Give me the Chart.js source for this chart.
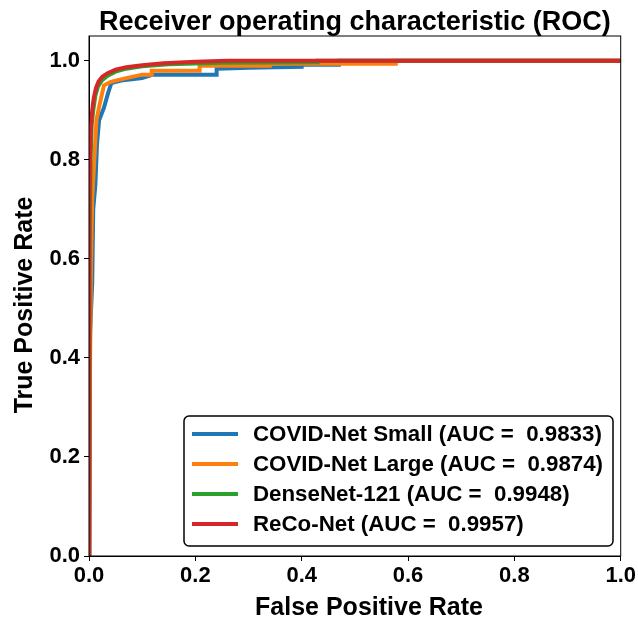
<!DOCTYPE html>
<html>
<head>
<meta charset="utf-8">
<script src="https://cdn.jsdelivr.net/npm/chart.js@4.4.1/dist/chart.umd.min.js"></script>
<style>
    html, body { margin: 0; padding: 0; background: #fff; }
    #wrap { width: 638px; height: 621px; }
</style>
</head>
<body>
<div id="wrap"><canvas id="rocChart"></canvas></div>
<script>
// ROC curves

const yTicks = [0.0, 0.2, 0.4, 0.6, 0.8, 1.0];

const smallFpr = [0, 0.002, 0.006, 0.008, 0.012, 0.015, 0.019, 0.028, 0.036, 0.042, 0.06, 0.1, 0.12, 0.24, 0.24, 0.30, 0.40, 0.40, 0.47, 0.47, 1.0];
const smallTpr = [0, 0.45, 0.55, 0.70, 0.75, 0.83, 0.88, 0.905, 0.935, 0.955, 0.96, 0.965, 0.972, 0.972, 0.984, 0.986, 0.988, 0.992, 0.992, 1.0, 1.0];

const largeFpr = [0, 0.002, 0.004, 0.006, 0.010, 0.014, 0.019, 0.028, 0.04, 0.05, 0.07, 0.1, 0.118, 0.118, 0.208, 0.208, 0.34, 0.34, 0.577, 0.577, 1.0];
const largeTpr = [0, 0.39, 0.60, 0.72, 0.80, 0.88, 0.907, 0.95, 0.957, 0.96, 0.965, 0.972, 0.972, 0.98, 0.98, 0.99, 0.99, 0.994, 0.994, 1.0, 1.0];

const denseFpr = [0, 0.001, 0.003, 0.005, 0.008, 0.012, 0.017, 0.024, 0.035, 0.05, 0.07, 0.1, 0.15, 0.25, 0.43, 0.43, 1.0];
const denseTpr = [0, 0.60, 0.80, 0.87, 0.90, 0.93, 0.948, 0.96, 0.97, 0.978, 0.984, 0.989, 0.993, 0.996, 0.997, 1.0, 1.0];

const recoFpr = [0, 0, 0.001, 0.002, 0.004, 0.006, 0.009, 0.013, 0.018, 0.025, 0.035, 0.05, 0.07, 0.1, 0.14, 0.2, 0.26, 1.0];
const recoTpr = [0, 0.50, 0.70, 0.82, 0.87, 0.90, 0.925, 0.945, 0.958, 0.968, 0.975, 0.982, 0.987, 0.991, 0.995, 0.998, 1.0, 1.0];

const seriesNames = ['COVID-Net Small', 'COVID-Net Large', 'DenseNet-121', 'ReCo-Net'];
const seriesAuc = ['0.9833', '0.9874', '0.9948', '0.9957'];
const seriesColors = ['#1f77b4', '#ff7f0e', '#2ca02c', '#d62728'];
const seriesFpr = [smallFpr, largeFpr, denseFpr, recoFpr];
const seriesTpr = [smallTpr, largeTpr, denseTpr, recoTpr];

const chartTitle = 'Receiver operating characteristic (ROC)';
const xTitle = 'False Positive Rate';
const yTitle = 'True Positive Rate';
const FONT = "'Liberation Sans', Arial, sans-serif";

function toPoints(xs, ys) {
    return xs.map((x, i) => ({ x: x, y: ys[i] }));
}

// titles, box around the plot, legend in lower right
const framePlugin = {
    id: 'frameAndLegend',
    afterDraw(chart) {
        const ctx = chart.ctx;
        const a = chart.chartArea;
        ctx.save();
        ctx.strokeStyle = '#000';
        ctx.lineWidth = 1;
        ctx.strokeRect(a.left, a.top, a.right - a.left, a.bottom - a.top);

        ctx.fillStyle = '#000';
        ctx.font = 'bold 27px ' + FONT;
        ctx.textAlign = 'center';
        ctx.textBaseline = 'alphabetic';
        ctx.fillText(chartTitle, (a.left + a.right) / 2, 30);

        ctx.textBaseline = 'middle';
        ctx.font = 'bold 25px ' + FONT;
        ctx.fillText(xTitle, 369, 608);

        ctx.save();
        ctx.translate(25, 305);
        ctx.rotate(-Math.PI / 2);
        ctx.fillText(yTitle, 0, 0);
        ctx.restore();

        // legend
        const bx = 184, by = 416, bw = 429, bh = 130, r = 5;
        ctx.beginPath();
        ctx.moveTo(bx + r, by);
        ctx.arcTo(bx + bw, by, bx + bw, by + bh, r);
        ctx.arcTo(bx + bw, by + bh, bx, by + bh, r);
        ctx.arcTo(bx, by + bh, bx, by, r);
        ctx.arcTo(bx, by, bx + bw, by, r);
        ctx.closePath();
        ctx.fillStyle = 'rgba(255,255,255,0.9)';
        ctx.fill();
        ctx.lineWidth = 1.5;
        ctx.strokeStyle = '#000';
        ctx.stroke();

        ctx.font = 'bold 22.3px ' + FONT;
        ctx.textBaseline = 'middle';
        ctx.textAlign = 'left';
        chart.data.datasets.forEach((ds, i) => {
            const y = 434 + i * 30;
            ctx.beginPath();
            ctx.moveTo(192, y);
            ctx.lineTo(238, y);
            ctx.lineWidth = 4;
            ctx.strokeStyle = ds.borderColor;
            ctx.stroke();
            ctx.fillStyle = '#000';
            ctx.fillText(ds.label, 253, y + 1);
        });
        ctx.restore();
    }
};

const datasets = seriesNames.map((name, i) => ({
    label: name + ' (AUC =  ' + seriesAuc[i] + ')',
    data: toPoints(seriesFpr[i], seriesTpr[i]),
    borderColor: seriesColors[i],
    backgroundColor: seriesColors[i],
    borderWidth: 4,
    pointRadius: 0,
    tension: 0,
    fill: false,
    order: seriesNames.length - i
}));

new Chart(document.getElementById('rocChart').getContext('2d'), {
    type: 'line',
    data: { datasets: datasets },
    options: {
        responsive: true,
        maintainAspectRatio: false,
        animation: false,
        layout: { padding: { left: 0, right: 15, top: 36, bottom: 0 } },
        plugins: {
            legend: { display: false },
            tooltip: { enabled: false },
            title: { display: false }
        },
        scales: {
            x: {
                type: 'linear',
                min: 0,
                max: 1,
                grid: { drawOnChartArea: false, drawTicks: true, tickLength: 5, tickColor: '#000' },
                border: { display: true, color: '#000', width: 1 },
                ticks: {
                    stepSize: 0.2,
                    color: '#000',
                    padding: 2,
                    maxRotation: 0,
                    font: { family: FONT, size: 22, weight: 'bold' },
                    callback: v => v.toFixed(1)
                },
                afterFit: s => { s.height = 65; }
            },
            y: {
                type: 'linear',
                min: 0,
                max: 1.05,
                afterBuildTicks: s => { s.ticks = yTicks.map(v => ({ value: v })); },
                grid: { drawOnChartArea: false, drawTicks: true, tickLength: 5, tickColor: '#000' },
                border: { display: true, color: '#000', width: 1 },
                ticks: {
                    color: '#000',
                    padding: 4,
                    font: { family: FONT, size: 22, weight: 'bold' },
                    callback: v => v.toFixed(1)
                },
                afterFit: s => { s.width = 89; }
            }
        }
    },
    plugins: [framePlugin]
});
</script>
</body>
</html>
